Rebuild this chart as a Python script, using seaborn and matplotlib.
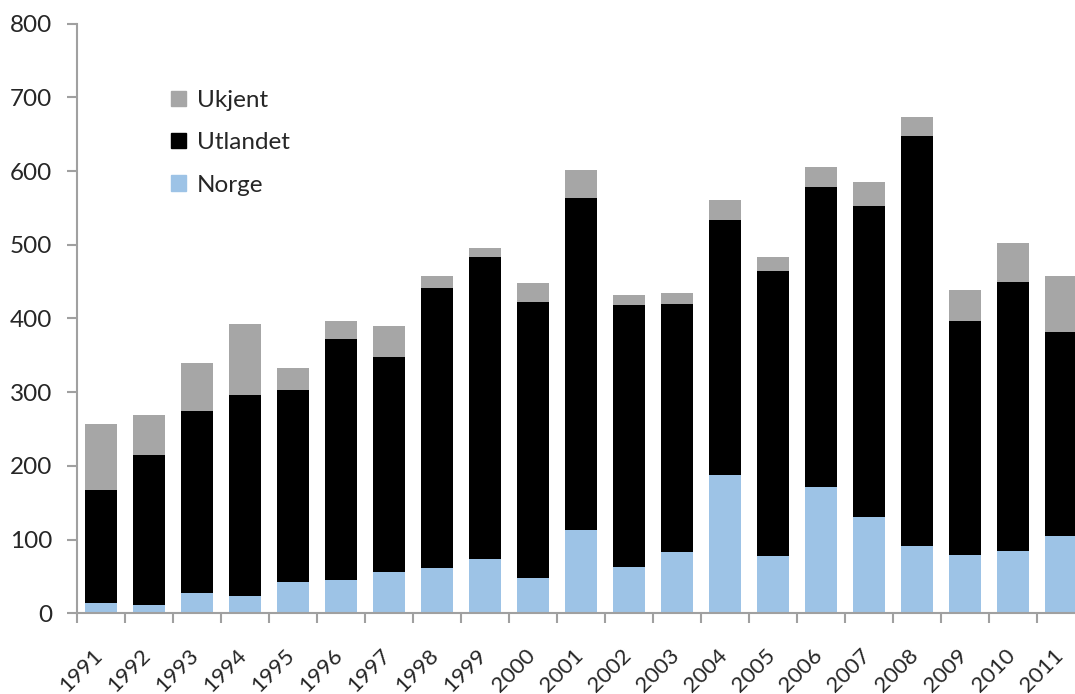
import numpy as np
import matplotlib
matplotlib.use("Agg")
import matplotlib.pyplot as plt
import matplotlib.transforms as mtrans
import seaborn as sns
from matplotlib.patches import Patch

years = [str(y) for y in range(1991, 2012)]
# stacked pieces
norge = np.array([14, 11, 27, 23, 42, 45, 56, 61, 74, 48, 113, 63, 83, 187, 78, 172, 130, 91, 79, 85, 105])
utl_top = np.array([167, 215, 274, 296, 303, 372, 348, 441, 484, 423, 564, 418, 420, 533, 464, 579, 552, 648, 397, 449, 382])
total = np.array([257, 269, 339, 393, 333, 397, 390, 458, 496, 448, 602, 432, 435, 561, 484, 606, 585, 674, 439, 502, 457])
utlandet = utl_top - norge
ukjent = total - utl_top

c_norge = "#9DC3E6"
c_utl = "#000000"
c_ukj = "#A6A6A6"
axis_grey = "#A0A0A0"

sns.set_theme(style="white")
plt.rcParams["font.family"] = ["Lato", "DejaVu Sans"]

fig = plt.figure(figsize=(10.75, 6.94), dpi=100)
ax = fig.add_axes([77 / 1075, (694 - 613.3) / 694, 1008 / 1075, 589.6 / 694])

sns.barplot(x=years, y=norge, color=c_norge, width=0.66, linewidth=0,
            errorbar=None, saturation=1, ax=ax)
sns.barplot(x=years, y=utlandet, bottom=norge, color=c_utl, width=0.66,
            linewidth=0, errorbar=None, saturation=1, ax=ax)
sns.barplot(x=years, y=ukjent, bottom=utl_top, color=c_ukj, width=0.66,
            linewidth=0, errorbar=None, saturation=1, ax=ax)

ax.set_xlim(-0.5, 20.5)
ax.set_ylim(0, 800)
ax.set_yticks(range(0, 801, 100))

for s in ["top", "right"]:
    ax.spines[s].set_visible(False)
for s in ["left", "bottom"]:
    ax.spines[s].set_color(axis_grey)
    ax.spines[s].set_linewidth(1.5)

ax.tick_params(axis="y", which="major", direction="out", length=7, width=1.5,
               color=axis_grey, labelsize=17.5, pad=11, left=True)
ax.set_xticks(np.arange(-0.5, 21, 1), minor=True)
ax.tick_params(axis="x", which="minor", direction="out", length=7, width=1.5,
               color=axis_grey, bottom=True)
ax.tick_params(axis="x", which="major", length=0, labelsize=16, pad=23)
shift = mtrans.ScaledTranslation(-6 / 72, 0, fig.dpi_scale_trans)
for lab in ax.get_xticklabels():
    lab.set_rotation(45)
    lab.set_ha("right")
    lab.set_va("top")
    lab.set_rotation_mode("anchor")
    lab.set_transform(lab.get_transform() + shift)
ax.set_xlabel("")
ax.set_ylabel("")

handles = [Patch(color=c_ukj), Patch(color=c_utl), Patch(color=c_norge)]
ax.legend(handles, ["Ukjent", "Utlandet", "Norge"], loc="upper left",
          bbox_to_anchor=(0.072, 0.925), frameon=False, fontsize=17.5,
          handlelength=0.6, handleheight=0.6, handletextpad=0.45,
          labelspacing=0.88)

fig.savefig("out.png", dpi=100)
